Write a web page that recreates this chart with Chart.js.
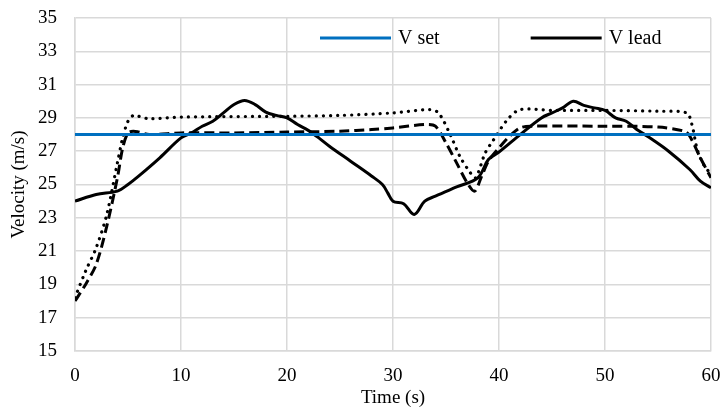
<!DOCTYPE html>
<html>
<head>
<meta charset="utf-8">
<script src="https://cdn.jsdelivr.net/npm/chart.js@4.4.1/dist/chart.umd.min.js"></script>
<style>
  html, body { margin: 0; padding: 0; background: #fff; }
  #wrap { width: 723px; height: 409px; }
</style>
</head>
<body>
<div id="wrap"><canvas id="velChart" width="723" height="409"></canvas></div>
<script>
// Data (time in s, velocity in m/s)
const setTime = [0, 60];
const setVel = [28, 28];

const leadTime = [0, 2, 4, 5, 6, 8, 10, 11, 12, 13, 14, 15, 16, 17, 18, 19, 20, 21, 22, 23, 24, 26, 28, 29, 29.5, 30, 31, 32, 33, 34, 36, 38, 39, 40, 42, 44, 45, 46, 47, 48, 49, 50, 51, 52, 53, 54, 56, 58, 59, 60];
const leadVel = [24.0, 24.4, 24.6, 25.0, 25.5, 26.6, 27.8, 28.1, 28.5, 28.8, 29.3, 29.8, 30.05, 29.8, 29.35, 29.15, 29.0, 28.6, 28.25, 27.8, 27.3, 26.4, 25.5, 25.0, 24.5, 24.0, 23.85, 23.2, 24.0, 24.3, 24.85, 25.4, 26.5, 26.95, 28.0, 29.0, 29.3, 29.6, 30.0, 29.75, 29.6, 29.45, 29.0, 28.8, 28.3, 27.9, 27.0, 25.9, 25.2, 24.8];

const dashTime = [0, 1, 2, 3, 4, 4.5, 5, 5.5, 6, 7, 10, 15, 20, 25, 28, 30, 33, 34, 35, 36, 37, 37.7, 38.3, 39, 40, 41, 42, 43, 50, 55, 57.5, 58, 59, 60];
const dashVel = [18.0, 19.0, 20.2, 22.5, 25.4, 27.2, 28.1, 28.2, 28.15, 28.0, 28.1, 28.1, 28.15, 28.2, 28.3, 28.4, 28.6, 28.5, 27.5, 26.3, 25.1, 24.6, 25.4, 26.4, 27.2, 27.9, 28.4, 28.5, 28.5, 28.45, 28.2, 27.9, 26.6, 25.4];

const dotTime = [0, 1, 2, 3, 4, 4.5, 5, 5.5, 6, 7, 10, 20, 25, 30, 33.5, 34.3, 35.4, 36.3, 37.3, 37.8, 38.7, 39.4, 40.8, 42, 45, 50, 55, 57.7, 58.2, 58.7, 59.3, 60];
const dotVel = [18.2, 19.8, 21.2, 23.2, 26.3, 27.8, 28.8, 29.15, 29.1, 28.95, 29.05, 29.1, 29.15, 29.3, 29.5, 29.3, 28.0, 26.7, 25.7, 25.4, 26.9, 27.6, 28.9, 29.5, 29.45, 29.45, 29.4, 29.3, 28.6, 27.1, 26.2, 25.6];

const xTicks = [0, 10, 20, 30, 40, 50, 60];
const yMin = 15, yMax = 35, yStep = 2;

const FONT = "'Liberation Serif', 'Times New Roman', serif";
const GRID = '#d9d9d9';

function toPoints(xs, ys) {
    return xs.map((x, i) => ({ x: x, y: ys[i] }));
}

// legend drawn inside the plot area, only for the first two series
const insideLegend = {
    id: 'insideLegend',
    afterDatasetsDraw(chart) {
        const c = chart.ctx;
        const area = chart.chartArea;
        const lineLen = 71, gap = 7, spacing = 91;
        let x = area.left + 245;
        const y = area.top + 20;
        c.save();
        c.font = '20px ' + FONT;
        c.textBaseline = 'middle';
        chart.data.datasets.forEach(ds => {
            if (!ds.inLegend) return;
            c.strokeStyle = ds.borderColor;
            c.lineWidth = ds.borderWidth;
            c.setLineDash([]);
            c.beginPath();
            c.moveTo(x, y);
            c.lineTo(x + lineLen, y);
            c.stroke();
            c.fillStyle = '#000';
            c.fillText(ds.label, x + lineLen + gap, y + 1);
            x += lineLen + gap + c.measureText(ds.label).width + spacing;
        });
        c.restore();
    }
};

const ctx = document.getElementById('velChart').getContext('2d');

new Chart(ctx, {
    type: 'line',
    data: {
        datasets: [
            {
                label: 'V set',
                inLegend: true,
                data: toPoints(setTime, setVel),
                borderColor: '#0070c0',
                borderWidth: 3,
                pointRadius: 0,
                tension: 0
            },
            {
                label: 'V lead',
                inLegend: true,
                data: toPoints(leadTime, leadVel),
                borderColor: '#000',
                borderWidth: 3,
                pointRadius: 0,
                tension: 0.35
            },
            {
                label: 'V dashed',
                data: toPoints(dashTime, dashVel),
                borderColor: '#000',
                borderWidth: 3,
                borderDash: [10, 5],
                pointRadius: 0,
                tension: 0.3
            },
            {
                label: 'V dotted',
                data: toPoints(dotTime, dotVel),
                borderColor: '#000',
                borderWidth: 3.2,
                borderDash: [0.1, 7],
                borderCapStyle: 'round',
                pointRadius: 0,
                tension: 0.3
            }
        ]
    },
    options: {
        responsive: false,
        animation: false,
        layout: { padding: { top: 18, right: 12, left: 0, bottom: 0 } },
        plugins: {
            legend: { display: false },
            tooltip: { enabled: false }
        },
        scales: {
            x: {
                type: 'linear',
                min: 0,
                max: 60,
                afterBuildTicks: axis => { axis.ticks = xTicks.map(v => ({ value: v })); },
                afterFit: axis => {
                    axis.height = 58;
                    axis.paddingLeft = 0;
                    axis.paddingRight = 0;
                },
                grid: { color: GRID, lineWidth: 1.5, drawTicks: false },
                border: { color: GRID, width: 1.5 },
                ticks: { color: '#000', font: { family: FONT, size: 19 }, padding: 14, maxRotation: 0 },
                title: { display: true, text: 'Time (s)', color: '#000', font: { family: FONT, size: 19 }, padding: { top: 4, bottom: 0 } }
            },
            y: {
                min: yMin,
                max: yMax,
                ticks: { stepSize: yStep, color: '#000', font: { family: FONT, size: 19 }, padding: 18 },
                afterFit: axis => {
                    axis.width = 75;
                    axis.paddingTop = 0;
                    axis.paddingBottom = 0;
                },
                grid: { color: GRID, lineWidth: 1.5, drawTicks: false },
                border: { color: GRID, width: 1.5 },
                title: { display: true, text: 'Velocity (m/s)', color: '#000', font: { family: FONT, size: 19 }, padding: { top: 8, bottom: 0 } }
            }
        }
    },
    plugins: [insideLegend]
});
</script>
</body>
</html>
